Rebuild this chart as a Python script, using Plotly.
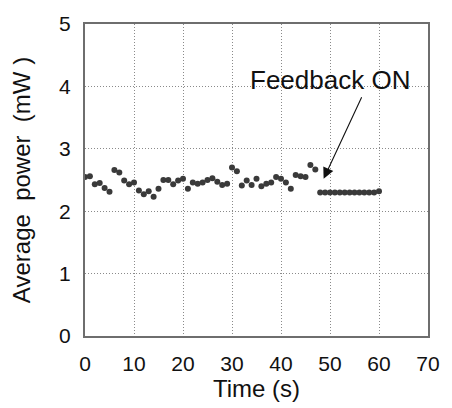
import plotly.graph_objects as go

time_s = list(range(0, 61))
power_mw = [
    2.55, 2.56, 2.43, 2.45, 2.37, 2.31, 2.66, 2.62, 2.49, 2.43,
    2.46, 2.33, 2.27, 2.32, 2.23, 2.36, 2.50, 2.50, 2.43, 2.49,
    2.52, 2.36, 2.46, 2.44, 2.46, 2.50, 2.53, 2.47, 2.42, 2.44,
    2.70, 2.64, 2.41, 2.49, 2.42, 2.52, 2.40, 2.44, 2.46, 2.55,
    2.52, 2.46, 2.36, 2.58, 2.56, 2.55, 2.74, 2.67,
    2.30, 2.30, 2.30, 2.30, 2.30, 2.30, 2.30, 2.30, 2.30, 2.30,
    2.30, 2.30, 2.32,
]

x_ticks = [0, 10, 20, 30, 40, 50, 60, 70]
y_ticks = [0, 1, 2, 3, 4, 5]

FONT = "Liberation Sans, Arial, sans-serif"

fig = go.Figure()
fig.add_trace(go.Scatter(
    x=time_s, y=power_mw, mode="markers",
    marker=dict(size=6, color="#3a3a3a", line=dict(width=0)),
    showlegend=False, hoverinfo="skip",
))

axis_common = dict(
    showline=True, linecolor="#6e6e6e", linewidth=2, mirror=True,
    showgrid=True, gridcolor="#8a8a8a", griddash="1px,2px", gridwidth=1,
    zeroline=False, ticks="", tickfont=dict(family=FONT, size=21, color="#111"),
)

fig.update_xaxes(
    range=[0, 70], tickvals=x_ticks, ticklabelstandoff=8,
    title=dict(text="Time (s)", font=dict(family=FONT, size=24, color="#111"), standoff=4),
    **axis_common,
)
fig.update_yaxes(
    range=[0, 5], tickvals=y_ticks, ticklabelstandoff=8,
    title=dict(text="Average\u00a0 power\u00a0 (mW\u00a0)", font=dict(family=FONT, size=24, color="#111"), standoff=22),
    **axis_common,
)

fig.add_annotation(
    x=48.7, y=2.52, ax=56.6, ay=3.85, axref="x", ayref="y", xref="x", yref="y",
    text="", showarrow=True, arrowhead=2, arrowsize=2.0, arrowwidth=1.1, arrowcolor="#111",
)
fig.add_annotation(
    x=49.9, y=4.1, xref="x", yref="y", text="Feedback ON", showarrow=False,
    font=dict(family=FONT, size=26, color="#111"),
)

fig.update_layout(
    width=452, height=408,
    margin=dict(l=85, r=15, t=16, b=67),
    paper_bgcolor="white", plot_bgcolor="white",
)

fig.write_html("out.html")
